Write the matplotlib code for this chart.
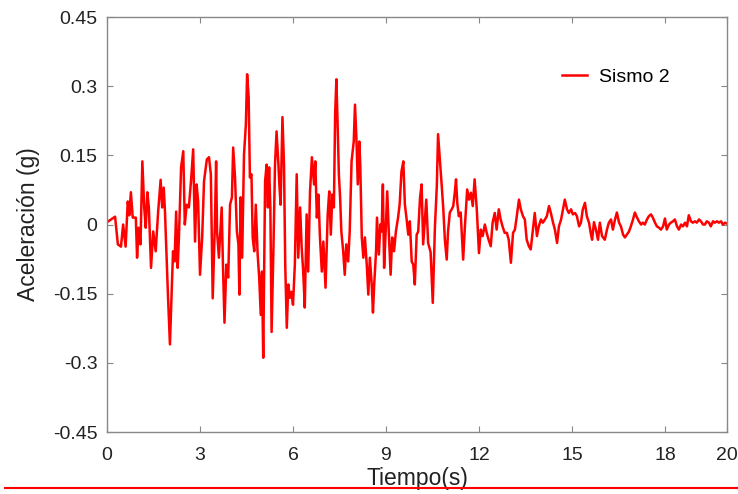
import numpy as np
import matplotlib.pyplot as plt
from matplotlib.lines import Line2D

# record "Sismo 2"
tiempo = [0.00, 0.26, 0.35, 0.45, 0.52, 0.60, 0.67, 0.72, 0.77, 0.83, 0.93, 0.97,
          1.02, 1.08, 1.14, 1.20, 1.25, 1.30, 1.35, 1.42, 1.49, 1.57, 1.65, 1.73,
          1.78, 1.83, 1.87, 1.93, 1.97, 2.03, 2.08, 2.13, 2.18, 2.23, 2.28, 2.32,
          2.39, 2.46, 2.51, 2.57, 2.64, 2.71, 2.78, 2.84, 2.89, 2.94, 3.00, 3.07,
          3.13, 3.22, 3.29, 3.35, 3.41, 3.48, 3.52, 3.55, 3.61, 3.70, 3.74, 3.79,
          3.85, 3.91, 3.97, 4.03, 4.07, 4.13, 4.19, 4.24, 4.27, 4.31, 4.36, 4.42,
          4.48, 4.52, 4.57, 4.61, 4.66, 4.70, 4.75, 4.80, 4.86, 4.91, 4.96, 5.00,
          5.04, 5.10, 5.15, 5.19, 5.23, 5.27, 5.31, 5.37, 5.42, 5.47, 5.53, 5.56,
          5.60, 5.66, 5.71, 5.75, 5.80, 5.85, 5.90, 5.95, 6.00, 6.06, 6.12, 6.17,
          6.23, 6.28, 6.33, 6.38, 6.44, 6.49, 6.55, 6.61, 6.68, 6.72, 6.77, 6.82,
          6.87, 6.93, 6.98, 7.05, 7.12, 7.17, 7.22, 7.27, 7.32, 7.36, 7.40, 7.44,
          7.48, 7.52, 7.56, 7.62, 7.67, 7.72, 7.78, 7.83, 7.89, 7.96, 8.00, 8.05,
          8.09, 8.14, 8.17, 8.22, 8.27, 8.32, 8.38, 8.43, 8.48, 8.54, 8.58, 8.62,
          8.68, 8.71, 8.77, 8.82, 8.86, 8.90, 8.94, 8.99, 9.04, 9.09, 9.15, 9.20,
          9.26, 9.32, 9.39, 9.44, 9.50, 9.56, 9.61, 9.66, 9.72, 9.77, 9.83, 9.88,
          9.93, 9.99, 10.04, 10.10, 10.15, 10.20, 10.30, 10.36, 10.44, 10.51, 10.58, 10.64,
          10.68, 10.74, 10.80, 10.85, 10.90, 10.96, 11.00, 11.06, 11.12, 11.17, 11.22, 11.26,
          11.30, 11.35, 11.41, 11.49, 11.55, 11.62, 11.68, 11.74, 11.80, 11.86, 11.93, 12.00,
          12.06, 12.12, 12.19, 12.25, 12.31, 12.38, 12.44, 12.51, 12.57, 12.64, 12.70, 12.76,
          12.83, 12.90, 12.96, 13.03, 13.10, 13.16, 13.22, 13.29, 13.35, 13.42, 13.48, 13.54,
          13.61, 13.67, 13.74, 13.80, 13.87, 13.93, 14.00, 14.06, 14.13, 14.19, 14.26, 14.32,
          14.39, 14.45, 14.52, 14.58, 14.65, 14.71, 14.77, 14.84, 14.90, 14.97, 15.03, 15.10,
          15.16, 15.23, 15.29, 15.35, 15.42, 15.48, 15.55, 15.61, 15.65, 15.71, 15.77, 15.84,
          15.90, 15.97, 16.06, 16.13, 16.19, 16.26, 16.32, 16.39, 16.45, 16.52, 16.58, 16.65,
          16.71, 16.77, 16.84, 16.90, 16.97, 17.03, 17.10, 17.16, 17.23, 17.29, 17.35, 17.42,
          17.48, 17.55, 17.61, 17.68, 17.74, 17.81, 17.87, 17.94, 18.00, 18.06, 18.13, 18.19,
          18.26, 18.32, 18.39, 18.45, 18.52, 18.58, 18.65, 18.71, 18.77, 18.84, 18.90, 18.97,
          19.03, 19.10, 19.16, 19.23, 19.29, 19.35, 19.42, 19.48, 19.55, 19.61, 19.68, 19.74,
          19.81, 19.87, 19.94, 20.00]

acel = [0.005, 0.017, -0.043, -0.048, 0.0, -0.048, 0.05, 0.02, 0.07, 0.015, 0.015, -0.072,
        -0.007, -0.043, 0.137, 0.037, -0.007, 0.07, 0.037, -0.094, -0.015, -0.058, 0.028, 0.097,
        0.037, 0.08, 0.028, -0.087, -0.16, -0.26, -0.16, -0.058, -0.08, 0.028, -0.094, -0.028,
        0.124, 0.159, 0.0, 0.043, 0.037, 0.094, 0.163, -0.037, 0.087, 0.05, -0.109, -0.028,
        0.094, 0.141, 0.146, 0.109, -0.16, 0.0, 0.137, -0.015, -0.072, 0.037, -0.087, -0.213,
        -0.087, -0.115, 0.043, 0.059, 0.167, 0.102, -0.015, -0.043, -0.152, 0.059, -0.072, 0.152,
        0.217, 0.326, 0.276, 0.102, 0.109, -0.028, -0.058, 0.043, -0.065, -0.115, -0.196, -0.102,
        -0.289, 0.094, 0.13, 0.037, 0.124, 0.037, -0.233, -0.05, 0.13, 0.202, 0.13, 0.087,
        0.043, 0.233, 0.13, -0.087, -0.224, -0.13, -0.159, -0.146, -0.174, -0.087, 0.109, -0.072,
        0.037, -0.05, -0.102, -0.18, 0.022, -0.102, 0.072, 0.146, 0.087, 0.137, 0.015, 0.065,
        -0.028, -0.102, -0.037, -0.137, 0.022, 0.072, -0.022, 0.065, 0.037, 0.24, 0.315, 0.217,
        0.109, 0.059, -0.015, -0.058, -0.109, -0.043, -0.08, -0.015, 0.137, 0.18, 0.26, 0.18,
        0.087, 0.18, 0.13, -0.028, -0.072, -0.028, -0.087, -0.152, -0.072, -0.13, -0.191, -0.13,
        -0.058, 0.015, -0.065, 0.0, -0.015, 0.087, -0.094, -0.015, 0.072, -0.015, -0.109, -0.028,
        -0.058, -0.015, 0.015, 0.043, 0.115, 0.137, 0.043, 0.015, -0.022, 0.007, -0.08, -0.087,
        -0.13, -0.022, -0.015, 0.059, 0.087, -0.043, 0.054, -0.04, -0.06, -0.17, -0.004, 0.083,
        0.196, 0.141, 0.083, 0.033, -0.033, -0.076, -0.017, 0.026, 0.033, 0.04, 0.069, 0.098,
        0.047, 0.018, 0.026, -0.076, 0.0, 0.076, 0.054, 0.069, 0.04, 0.098, 0.033, -0.062,
        -0.011, -0.025, 0.0, -0.018, -0.033, -0.047, 0.004, 0.025, -0.011, 0.033, 0.011, -0.004,
        -0.018, -0.018, -0.033, -0.083, -0.018, -0.011, 0.018, 0.054, 0.033, 0.018, 0.011, -0.033,
        -0.047, -0.054, -0.011, 0.025, -0.025, -0.004, 0.011, 0.004, 0.011, 0.018, 0.04, 0.025,
        0.004, -0.011, -0.04, -0.004, 0.011, 0.033, 0.054, 0.033, 0.025, 0.033, 0.022, 0.025,
        0.018, -0.004, 0.004, 0.033, 0.047, 0.018, 0.004, -0.02, -0.033, 0.005, -0.01, -0.033,
        0.004, -0.025, -0.033, -0.011, 0.004, 0.011, -0.011, 0.011, 0.026, 0.004, -0.004, -0.022,
        -0.028, -0.022, -0.015, -0.004, 0.011, 0.026, 0.015, 0.007, 0.0, 0.004, 0.0, 0.011,
        0.018, 0.022, 0.015, 0.004, -0.004, -0.007, -0.011, -0.004, 0.013, -0.011, 0.0, 0.004,
        0.007, 0.011, -0.004, -0.011, 0.0, -0.004, 0.004, -0.004, 0.02, 0.007, 0.004, 0.007,
        0.004, 0.011, 0.007, 0.0, 0.0, 0.007, 0.004, -0.004, 0.007, 0.004, 0.007, 0.004,
        0.007, 0.0, 0.004, 0.002]

xticks = [0, 3, 6, 9, 12, 15, 18, 20]
yticks = [-0.45, -0.3, -0.15, 0, 0.15, 0.3, 0.45]
ytick_labels = ['-0.45', '-0.3', '-0.15', '0', '0.15', '0.3', '0.45']

plt.rcParams['font.family'] = ['Liberation Sans', 'DejaVu Sans']

fig = plt.figure(figsize=(7.38, 4.94), dpi=100)
ax = fig.add_axes([0.145, 0.1255, 0.84, 0.84])

ax.plot(tiempo, acel, color='red', linewidth=1.8, label='Sismo 2')

ax.set_xlim(0, 20)
ax.set_ylim(-0.45, 0.45)
ax.set_xticks(xticks)
ax.set_yticks(yticks)
ax.set_yticklabels(ytick_labels)
ax.tick_params(direction='in', length=4, width=0.8, color='#888888',
               top=True, right=True, labelsize=14, labelcolor='#222222')
ax.tick_params(axis='x', pad=11)
ax.tick_params(axis='y', pad=7)
for s in ax.spines.values():
    s.set_color('#888888')
    s.set_linewidth(1.0)

ax.set_xlabel('Tiempo(s)', fontsize=16.5, color='#222222', labelpad=2)
ax.set_ylabel('Aceleración (g)', fontsize=16.5, color='#222222', labelpad=9)

ax.legend(loc='center', bbox_to_anchor=(0.82, 0.855), frameon=False,
          fontsize=14, handlelength=1.3, handletextpad=0.6)

# red rule under the figure, as in the scanned page
fig.add_artist(Line2D([0.007, 1.0], [0.012, 0.012], color='red', linewidth=1.5,
                      transform=fig.transFigure))

plt.savefig('out.png', dpi=100)
